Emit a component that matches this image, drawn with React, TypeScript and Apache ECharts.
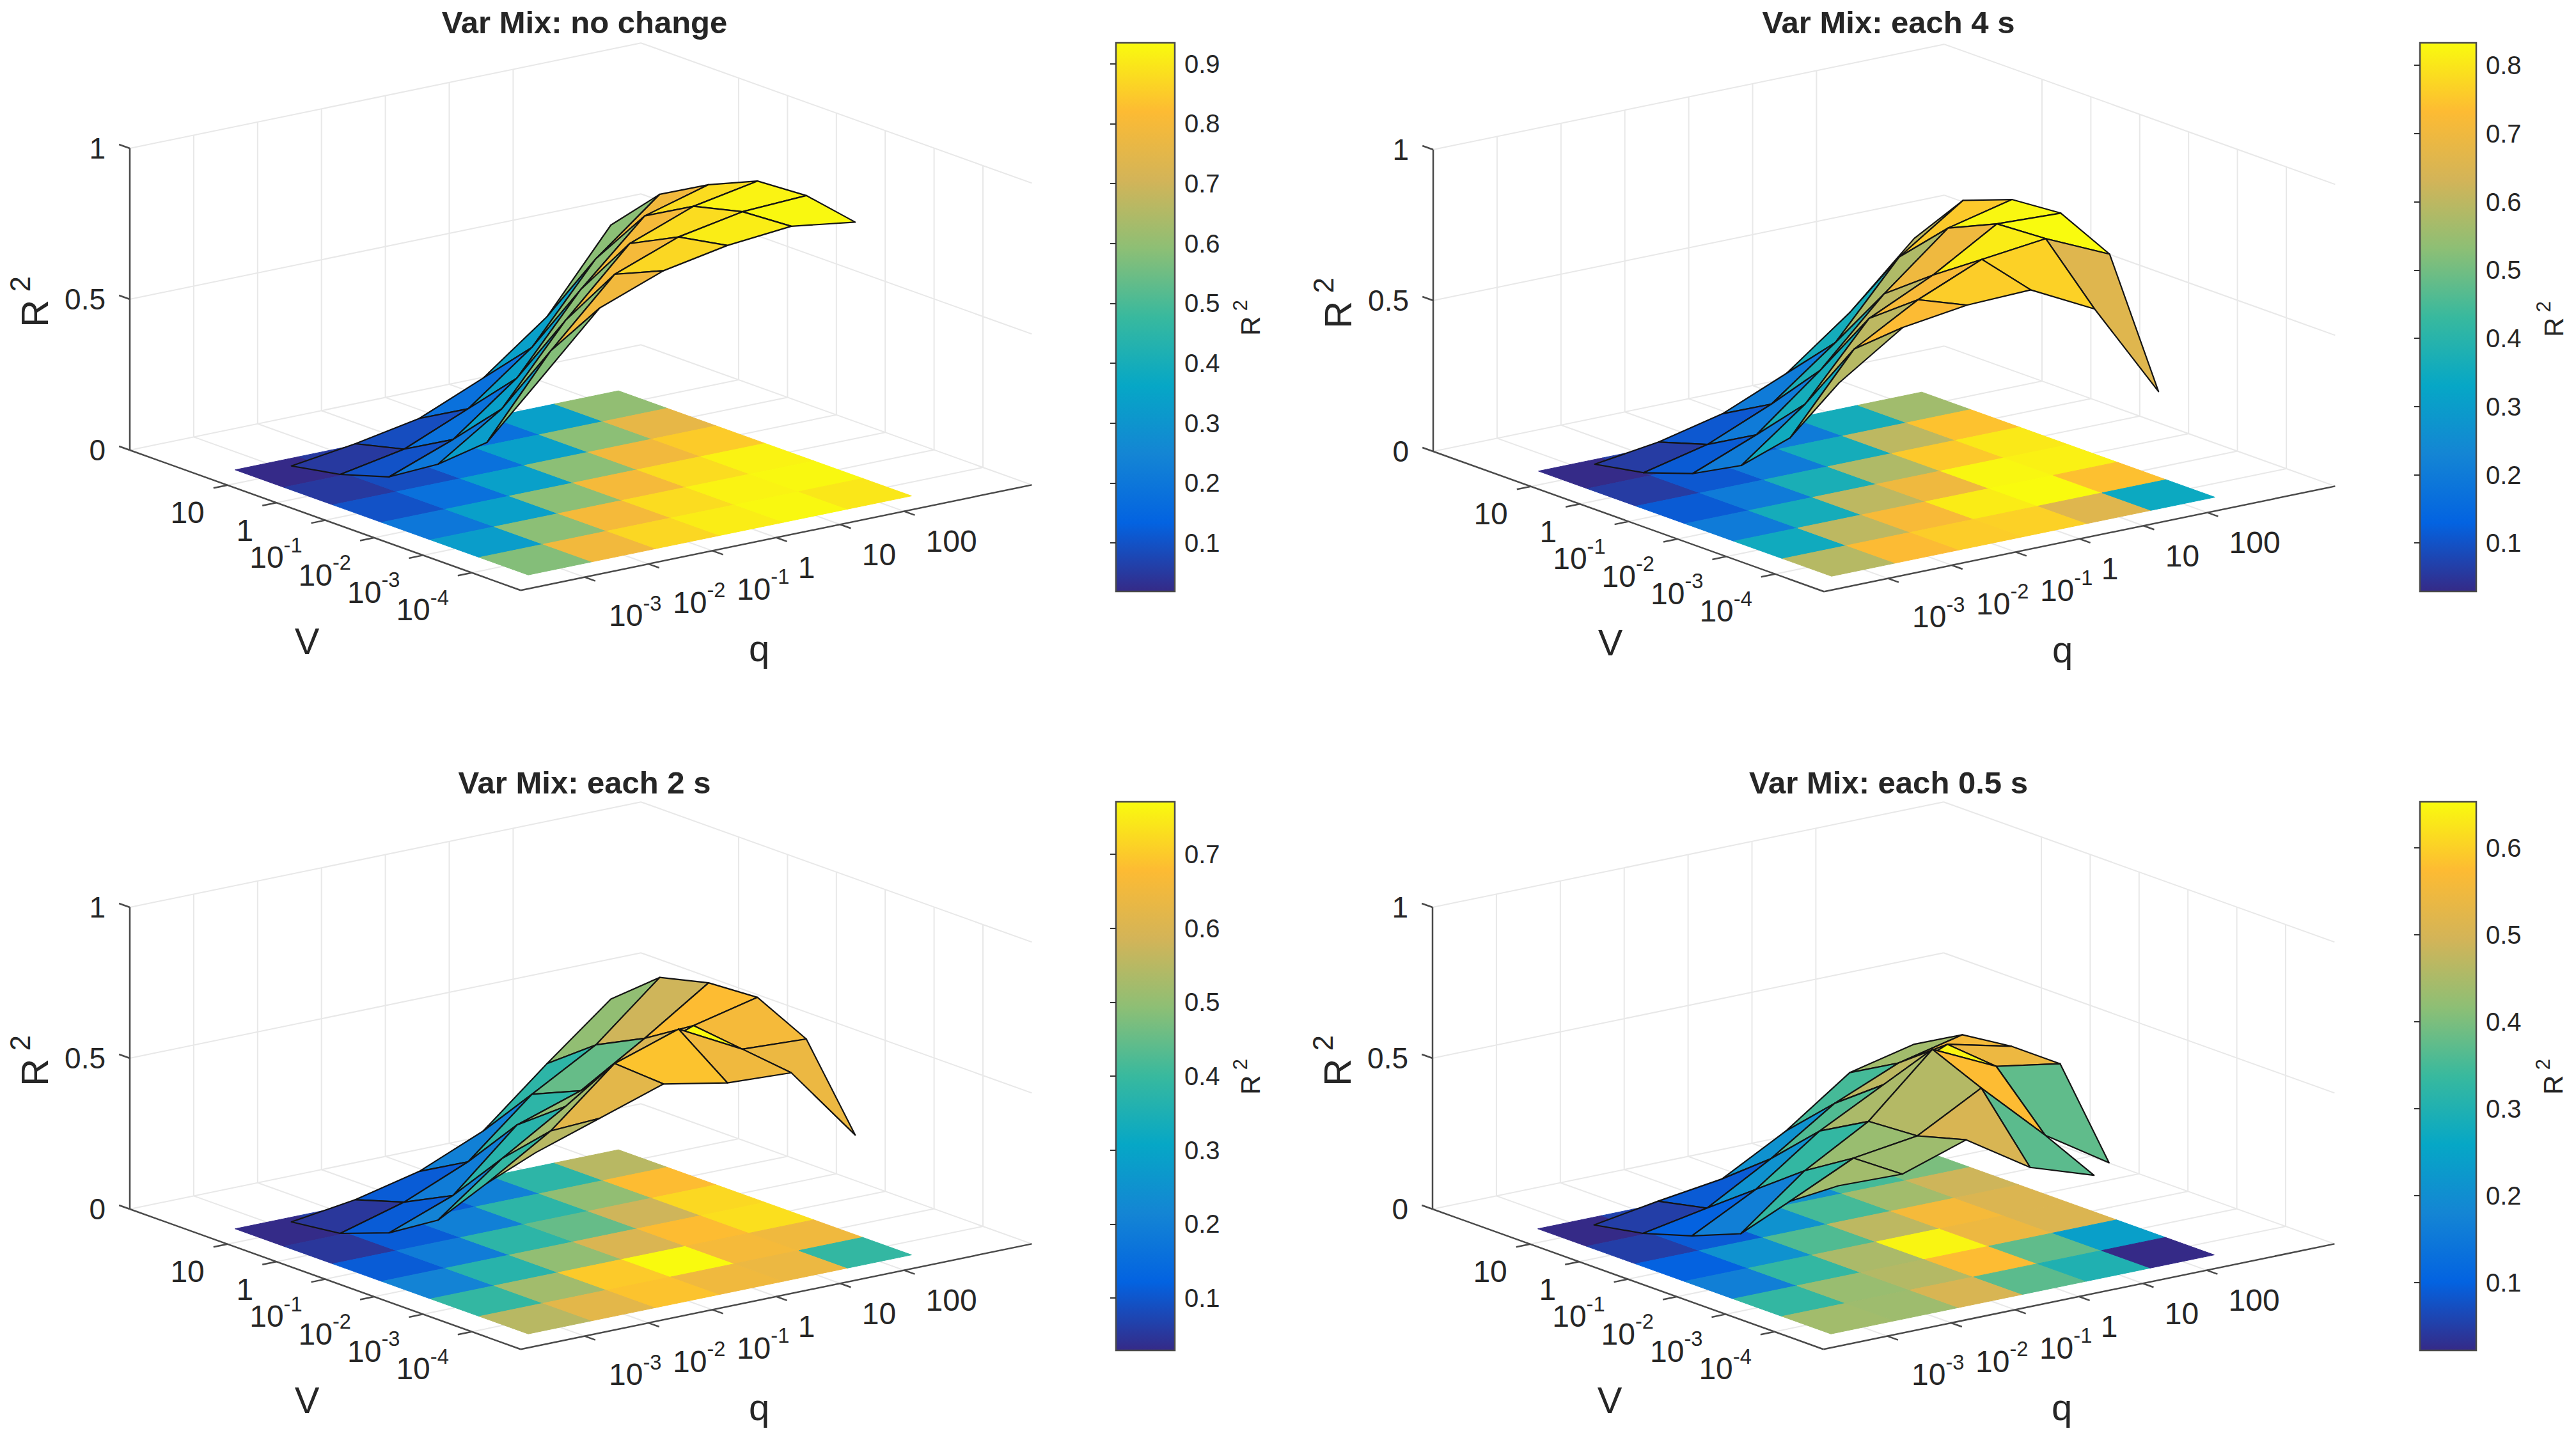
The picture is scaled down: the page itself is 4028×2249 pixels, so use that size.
import React, { useEffect, useRef } from "react";
import * as echarts from "echarts";

const FONT = "Liberation Sans";
const titles = ["Var Mix: no change", "Var Mix: each 4 s", "Var Mix: each 2 s", "Var Mix: each 0.5 s"];
const vTicks = ["10", "1", "10^-1", "10^-2", "10^-3", "10^-4"];
const qTicks = ["10^-3", "10^-2", "10^-1", "1", "10", "100"];
const zTicks = [0, 0.5, 1];

// rows: V = 10 ... 1e-4; columns: q = 1e-3 ... 100
const r2NoChange = [
  [0.02, 0.05, 0.09, 0.18, 0.34, 0.6],
  [0.05, 0.09, 0.18, 0.34, 0.59, 0.76],
  [0.1, 0.18, 0.34, 0.59, 0.79, 0.85],
  [0.2, 0.34, 0.59, 0.8, 0.88, 0.92],
  [0.33, 0.59, 0.8, 0.88, 0.92, 0.93],
  [0.58, 0.79, 0.87, 0.91, 0.93, 0.9],
];
const r2Each4 = [
  [0.03, 0.06, 0.11, 0.2, 0.36, 0.56],
  [0.06, 0.11, 0.2, 0.36, 0.6, 0.744],
  [0.115, 0.2, 0.37, 0.58, 0.754, 0.805],
  [0.2, 0.36, 0.6, 0.7, 0.826, 0.818],
  [0.35, 0.6, 0.72, 0.81, 0.835, 0.74],
  [0.59, 0.73, 0.76, 0.767, 0.66, 0.343],
];
const r2Each2 = [
  [0.03, 0.06, 0.11, 0.2, 0.38, 0.55],
  [0.05, 0.11, 0.2, 0.38, 0.5, 0.68],
  [0.11, 0.19, 0.38, 0.45, 0.58, 0.72],
  [0.21, 0.37, 0.5, 0.6, 0.68, 0.73],
  [0.39, 0.52, 0.7, 0.77, 0.66, 0.65],
  [0.55, 0.62, 0.69, 0.65, 0.64, 0.39],
];
const r2Each05: (number | null)[][] = [
  [0.02, 0.055, 0.085, 0.2, 0.35, 0.4],
  [0.05, 0.09, 0.21, 0.35, 0.44, 0.49],
  [0.1, 0.21, 0.36, 0.47, 0.56, 0.51],
  [0.165, 0.33, 0.45, 0.645, 0.545, 0.51],
  [0.33, 0.43, 0.46, 0.575, 0.375, 0.24],
  [0.44, 0.435, 0.505, 0.37, 0.3, null],
];
const matrices: (number | null)[][][] = [r2NoChange, r2Each4, r2Each2, r2Each05];
const colorMin = [0.019, 0.029, 0.029, 0.022];
const colorMax = [0.935, 0.833, 0.771, 0.653];
const colorTicks = [
  [0.1, 0.2, 0.3, 0.4, 0.5, 0.6, 0.7, 0.8, 0.9],
  [0.1, 0.2, 0.3, 0.4, 0.5, 0.6, 0.7, 0.8],
  [0.1, 0.2, 0.3, 0.4, 0.5, 0.6, 0.7],
  [0.1, 0.2, 0.3, 0.4, 0.5, 0.6],
];
const parula = ["#352a87", "#0363e1", "#1485d4", "#06a7c6", "#38b99e", "#8dbf75", "#d3b458", "#fdbb33", "#f9fb0e"];

const panelDx = [0, 2038, 0, 2037];
const panelDy = [0, 2, 1187, 1187];

// orthographic view of the 3-D box
const view = { x0: 203, y0: 704, ax: 76.4, ay: 27.4, bx: 99.9, by: -20.6, zy: -472 };
const project = (p: number, a: number, b: number, z: number) => [
  view.x0 + panelDx[p] + view.ax * a + view.bx * b,
  view.y0 + panelDy[p] + view.ay * a + view.by * b + view.zy * z,
];
const depth = (a: number, b: number, z: number) => a * 96 - b * 73.4 + z * 135;

const hex = (c: string) => [1, 3, 5].map((k) => parseInt(c.slice(k, k + 2), 16));
const colorOf = (v: number | null, p: number) => {
  if (v === null) return parula[0];
  const t = Math.min(1, Math.max(0, (v - colorMin[p]) / (colorMax[p] - colorMin[p]))) * (parula.length - 1);
  const k = Math.min(parula.length - 2, Math.floor(t));
  const c0 = hex(parula[k]);
  const c1 = hex(parula[k + 1]);
  const m = c0.map((c, n) => Math.round(c + (c1[n] - c) * (t - k)));
  return `rgb(${m[0]},${m[1]},${m[2]})`;
};

const richLabel = (label: string) => {
  const parts = label.split("^");
  return parts.length === 1 ? `{a|${label}}` : `{a|${parts[0]}}{b|${parts[1]}}`;
};
const richStyles = (base: number) => ({
  a: { fontFamily: FONT, fontSize: base, lineHeight: base * 1.25, fill: "#262626", verticalAlign: "bottom" },
  b: { fontFamily: FONT, fontSize: base * 0.68, lineHeight: base * 0.7, fill: "#262626", verticalAlign: "top" },
});

function frameSeries(p: number) {
  const lines: number[][] = [];
  [1, 2, 3, 4, 5, 6].forEach((b) => {
    lines.push([0, b, 0, 0, b, 1, 0]);
    lines.push([0, b, 0, 8, b, 0, 0]);
  });
  [2, 3, 4, 5, 6, 7].forEach((a) => {
    lines.push([a, 8, 0, a, 8, 1, 0]);
    lines.push([a, 0, 0, a, 8, 0, 0]);
  });
  zTicks.forEach((z) => {
    lines.push([0, 0, z, 0, 8, z, 0]);
    lines.push([0, 8, z, 8, 8, z, 0]);
  });
  lines.push([0, 0, 0, 0, 0, 1, 1], [0, 0, 0, 8, 0, 0, 1], [8, 0, 0, 8, 8, 0, 1]);
  [2, 3, 4, 5, 6, 7].forEach((a) => lines.push([a, 0, 0, a, -0.22, 0, 1]));
  [1, 2, 3, 4, 5, 6].forEach((b) => lines.push([8, b, 0, 8.22, b, 0, 1]));
  zTicks.forEach((z) => lines.push([0, 0, z, -0.22, 0, z, 1]));
  return {
    type: "custom",
    xAxisIndex: 0,
    yAxisIndex: 0,
    clip: false,
    silent: true,
    data: lines,
    renderItem: (_: any, api: any) => {
      const s = api.coord(project(p, api.value(0), api.value(1), api.value(2)));
      const e = api.coord(project(p, api.value(3), api.value(4), api.value(5)));
      const axis = api.value(6) === 1;
      return {
        type: "line",
        shape: { x1: s[0], y1: s[1], x2: e[0], y2: e[1] },
        style: { stroke: axis ? "#4a4a4a" : "#e8e8e8", lineWidth: axis ? 2.5 : 2, fill: null },
      };
    },
  };
}

function floorSeries(p: number) {
  const cells: (number | null)[][] = [];
  matrices[p].forEach((row, i) => row.forEach((v, j) => cells.push([i + 2, j + 1, v])));
  return {
    type: "custom",
    xAxisIndex: 0,
    yAxisIndex: 0,
    clip: false,
    silent: true,
    data: cells.map((c, n) => [c[0], c[1], n]),
    renderItem: (_: any, api: any) => {
      const a = api.value(0);
      const b = api.value(1);
      const v = cells[api.value(2)][2];
      const points = [
        [a - 0.5, b - 0.5],
        [a + 0.5, b - 0.5],
        [a + 0.5, b + 0.5],
        [a - 0.5, b + 0.5],
      ].map((q) => api.coord(project(p, q[0], q[1], 0)));
      const fill = colorOf(v, p);
      return { type: "polygon", shape: { points }, style: { fill, stroke: fill, lineWidth: 1 } };
    },
  };
}

function surfaceSeries(p: number) {
  const m = matrices[p];
  const quads: { d: number; item: number[] }[] = [];
  for (let i = 0; i < 5; i++) {
    for (let j = 0; j < 5; j++) {
      const z = [m[i][j], m[i + 1][j], m[i + 1][j + 1], m[i][j + 1]];
      if (z.some((v) => v === null)) continue;
      const zz = z as number[];
      const a = [i + 2, i + 3, i + 3, i + 2];
      const b = [j + 1, j + 1, j + 2, j + 2];
      const d = [0, 1, 2, 3].reduce((s, k) => s + depth(a[k], b[k], zz[k]), 0) / 4;
      quads.push({
        d,
        item: [a[0], b[0], zz[0], a[1], b[1], zz[1], a[2], b[2], zz[2], a[3], b[3], zz[3], m[i + 1][j] as number],
      });
    }
  }
  quads.sort((x, y) => x.d - y.d);
  return {
    type: "custom",
    xAxisIndex: 0,
    yAxisIndex: 0,
    clip: false,
    silent: true,
    data: quads.map((q) => q.item),
    renderItem: (_: any, api: any) => {
      const points = [0, 3, 6, 9].map((k) =>
        api.coord(project(p, api.value(k), api.value(k + 1), api.value(k + 2)))
      );
      return {
        type: "polygon",
        shape: { points },
        style: { fill: colorOf(api.value(12), p), stroke: "#141414", lineWidth: 2.2, lineJoin: "round" },
      };
    },
  };
}

function labelSeries(p: number) {
  const labels: { text: string; a: number; b: number; z: number; dx: number; dy: number; align: string; size: number }[] = [];
  vTicks.forEach((t, i) =>
    labels.push({ text: t, a: i + 2, b: 0, z: 0, dx: -36, dy: t.includes("^") ? 52 : 37, align: "right", size: 48 })
  );
  qTicks.forEach((t, j) =>
    labels.push({ text: t, a: 8, b: j + 1, z: 0, dx: t.includes("^") ? 38 : 34, dy: t.includes("^") ? 54 : 41, align: "left", size: 48 })
  );
  zTicks.forEach((z) => labels.push({ text: String(z), a: 0, b: 0, z, dx: -38, dy: -6, align: "right", size: 46 }));
  labels.push({ text: "V", a: 0, b: 0, z: 0, dx: 277, dy: 291, align: "center", size: 58 });
  labels.push({ text: "q", a: 0, b: 0, z: 0, dx: 984, dy: 302, align: "center", size: 58 });
  return {
    type: "custom",
    xAxisIndex: 0,
    yAxisIndex: 0,
    clip: false,
    silent: true,
    data: labels.map((l) => [l.a, l.b, l.z]),
    renderItem: (params: any, api: any) => {
      const l = labels[params.dataIndex];
      const c = api.coord(project(p, api.value(0), api.value(1), api.value(2)));
      return {
        type: "text",
        x: c[0] + l.dx,
        y: c[1] + l.dy,
        style: {
          text: richLabel(l.text),
          rich: richStyles(l.size),
          align: l.align,
          verticalAlign: "middle",
          fontFamily: FONT,
          fontSize: l.size,
          fill: "#262626",
        },
      };
    },
  };
}

function rotatedNames(p: number) {
  const spots = [
    { x: 47, y: 472, a: 60, b: 44 },
    { x: 1950, y: 497, a: 42, b: 31 },
  ];
  return {
    type: "custom",
    xAxisIndex: 0,
    yAxisIndex: 0,
    clip: false,
    silent: true,
    data: spots.map((s) => [s.x + panelDx[p], s.y + panelDy[p]]),
    renderItem: (params: any, api: any) => {
      const s = spots[params.dataIndex];
      const c = api.coord([api.value(0), api.value(1)]);
      return {
        type: "text",
        x: c[0],
        y: c[1],
        rotation: Math.PI / 2,
        style: {
          text: "{a|R}{b| 2}",
          rich: {
            a: { fontFamily: FONT, fontSize: s.a, lineHeight: s.a * 1.25, fill: "#262626", verticalAlign: "bottom" },
            b: { fontFamily: FONT, fontSize: s.b, lineHeight: s.b, fill: "#262626", verticalAlign: "top" },
          },
          align: "center",
          verticalAlign: "middle",
          fontFamily: FONT,
          fontSize: s.a,
          fill: "#262626",
        },
      };
    },
  };
}

function colorbarSeries(p: number) {
  return {
    type: "custom",
    xAxisIndex: p + 1,
    yAxisIndex: p + 1,
    clip: false,
    silent: true,
    data: [[0, colorMax[p], 1, colorMin[p]]],
    renderItem: (_: any, api: any) => {
      const tl = api.coord([api.value(0), api.value(1)]);
      const br = api.coord([api.value(2), api.value(3)]);
      return {
        type: "rect",
        shape: { x: tl[0], y: tl[1], width: br[0] - tl[0], height: br[1] - tl[1] },
        style: {
          stroke: "#4a4a4a",
          lineWidth: 2.5,
          fill: new echarts.graphic.LinearGradient(
            0,
            1,
            0,
            0,
            parula.map((color, k) => ({ offset: k / (parula.length - 1), color }))
          ),
        },
      };
    },
  };
}

const fullGrid = { left: 0, top: 0, width: 4028, height: 2249 };
const bars = [0, 1, 2, 3].map((p) => ({
  left: p % 2 === 0 ? 1745 : 3784,
  top: p < 2 ? 67 : 1254,
  width: p % 2 === 0 ? 92 : 88,
  height: 858,
}));

const option = {
  animation: false,
  backgroundColor: "#ffffff",
  title: titles.map((text, p) => ({
    text,
    left: p % 2 === 0 ? 909 : 2948,
    top: p < 2 ? 5 : 1194,
    textAlign: "center",
    textStyle: { fontFamily: FONT, fontWeight: "bold", fontSize: 49, color: "#262626" },
  })),
  grid: [fullGrid, ...bars],
  xAxis: [
    { type: "value", gridIndex: 0, min: 0, max: 4028, show: false },
    ...bars.map((_, p) => ({ type: "value", gridIndex: p + 1, min: 0, max: 1, show: false })),
  ],
  yAxis: [
    { type: "value", gridIndex: 0, min: 0, max: 2249, inverse: true, show: false },
    ...bars.map((_, p) => ({
      type: "value",
      gridIndex: p + 1,
      min: colorMin[p],
      max: colorMax[p],
      position: "right",
      z: 5,
      splitLine: { show: false },
      axisLine: { show: false },
      axisTick: {
        show: true,
        inside: true,
        length: 9,
        customValues: colorTicks[p],
        lineStyle: { color: "#333333", width: 2 },
      },
      axisLabel: {
        show: true,
        margin: 15,
        customValues: colorTicks[p],
        formatter: (v: number) => v.toFixed(1),
        fontFamily: FONT,
        fontSize: 40,
        color: "#262626",
      },
    })),
  ],
  series: [0, 1, 2, 3].flatMap((p) => [
    frameSeries(p),
    floorSeries(p),
    surfaceSeries(p),
    labelSeries(p),
    rotatedNames(p),
    colorbarSeries(p),
  ]),
};

export default function App() {
  const ref = useRef<HTMLDivElement>(null);
  useEffect(() => {
    const chart = echarts.init(ref.current!, undefined, { renderer: "svg" });
    chart.setOption(option as any);
    return () => chart.dispose();
  }, []);
  return <div ref={ref} style={{ position: "fixed", left: 0, top: 0, width: 4028, height: 2249 }} />;
}
